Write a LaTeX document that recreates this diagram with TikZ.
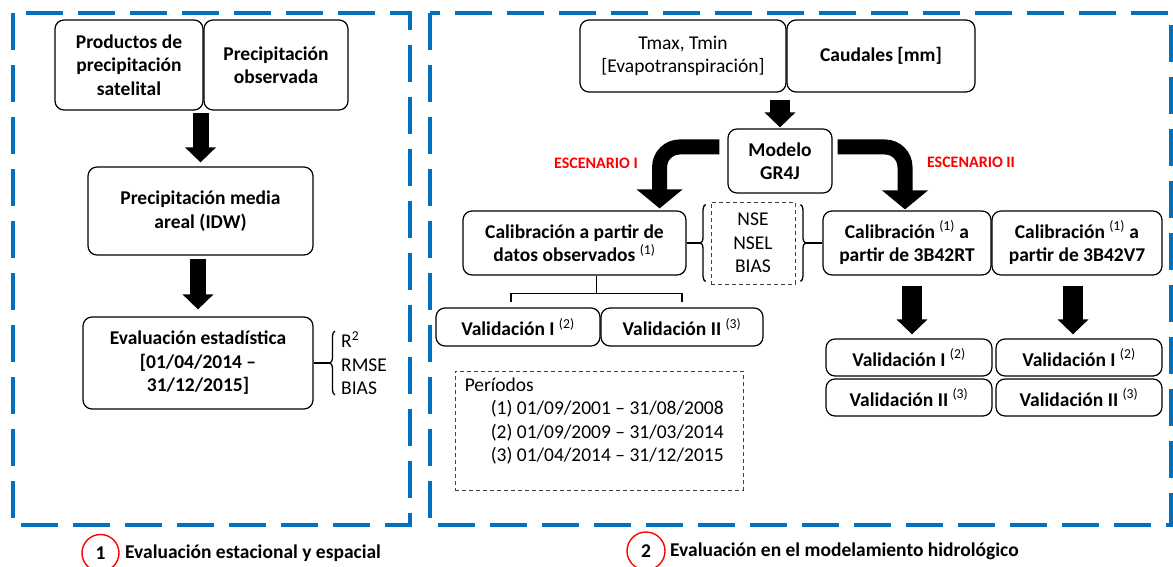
\documentclass[tikz,border=0pt]{standalone}
\usepackage{fontspec}
\setmainfont{Carlito}
\usetikzlibrary{arrows.meta,decorations.pathreplacing}

\definecolor{frameblue}{RGB}{0,112,192}
\newcommand{\boxfont}{\fontsize{19.5}{23.5}\selectfont}
\newcommand{\refnum}[1]{\textsuperscript{\mdseries(#1)}}

\begin{document}
\begin{tikzpicture}[
    x=1pt, y=-1pt,
    frame/.style={frameblue, line width=4pt, dash pattern=on 37pt off 15pt},
    box/.style={draw, rounded corners=9pt, line width=1.2pt, align=center,
        inner sep=0pt, font=\boxfont\bfseries},
    dashbox/.style={draw=black!75, line width=0.9pt, dash pattern=on 4pt off 3pt,
        inner sep=0pt, align=center, font=\boxfont},
    bigarrow/.style={line width=16pt, -{Triangle[width=30pt,length=15pt]}},
    bendarrow/.style={line width=15pt, rounded corners=20pt,
        -{Triangle[width=45pt,length=19pt]}},
    thinline/.style={line width=1.3pt},
    brace/.style={decorate, decoration={brace, amplitude=5pt}, line width=1.3pt},
    metric/.style={inner sep=0pt, align=left, font=\boxfont},
    scen/.style={red, font=\fontsize{16}{19}\selectfont\bfseries},
    numcircle/.style={circle, draw=red, line width=1.4pt, minimum size=37pt,
        inner sep=0pt, font=\boxfont\bfseries},
    caption/.style={inner sep=0pt, font=\boxfont\bfseries}
]
    \useasboundingbox (0,0) rectangle (1173,567);

    % frames
    \draw[frame] (13,13) rectangle (410,525);
    \draw[frame] (430,13) rectangle (1171,525);

    % 1: evaluacion estacional y espacial
    \node[box, minimum width=148pt, minimum height=90pt] (prodsat) at (129,65)
        {Productos de\\precipitación\\satelital};
    \node[box, minimum width=144pt, minimum height=90pt] (precobs) at (276,65)
        {Precipitación\\observada};
    \node[box, minimum width=225pt, minimum height=88pt] (pma) at (200.5,211)
        {Precipitación media\\areal (IDW)};
    \node[box, minimum width=230pt, minimum height=92pt] (evalest) at (198,363)
        {Evaluación estadística\\{}[01/04/2014 –\\31/12/2015]};
    \node[metric, anchor=west] (evalmet) at (341,363) {R\textsuperscript{2}\\RMSE\\BIAS};

    \draw[bigarrow, shorten <=2pt, shorten >=4pt] (pma.north |- prodsat.south) -- (pma.north);
    \draw[bigarrow, shorten <=3pt, shorten >=7pt] (evalest.north |- pma.south) -- (evalest.north);
    \draw[thinline] (evalest.east) -- ([xshift=-11pt]evalmet.west);
    \draw[brace] ([xshift=-6pt]evalmet.south west) -- ([xshift=-6pt]evalmet.north west);

    % 2: modelamiento hidrologico
    \node[box, minimum width=206pt, minimum height=72pt] (tmax) at (683,56)
        {\mdseries Tmax, Tmin\\\mdseries [Evapotranspiración]};
    \node[box, minimum width=188pt, minimum height=72pt] (caudales) at (881,56)
        {Caudales [mm]};
    \node[box, minimum width=104pt, minimum height=64pt] (modelo) at (780,161)
        {Modelo\\GR4J};
    \node[box, minimum width=223pt, minimum height=64pt] (calobs) at (574.5,243)
        {Calibración a partir de\\datos observados \refnum{1}};
    \node[dashbox, minimum width=84pt, minimum height=82pt] (metrics) at (753,243)
        {NSE\\NSEL\\BIAS};
    \node[box, minimum width=168pt, minimum height=64pt] (calrt) at (907,243)
        {Calibración \refnum{1} a\\partir de 3B42RT};
    \node[box, minimum width=170pt, minimum height=64pt] (calvs) at (1077,243)
        {Calibración \refnum{1} a\\partir de 3B42V7};

    \node[box, minimum width=164pt, minimum height=38pt] (valobsa) at (518,327)
        {Validación I \refnum{2}};
    \node[box, minimum width=162pt, minimum height=38pt] (valobsb) at (682,327)
        {Validación II \refnum{3}};
    \node[box, minimum width=166pt, minimum height=37pt] (valrta) at (909,357.5)
        {Validación I \refnum{2}};
    \node[box, minimum width=166pt, minimum height=37pt] (valrtb) at (909,397.5)
        {Validación II \refnum{3}};
    \node[box, minimum width=166pt, minimum height=37pt] (valvsa) at (1079,357.5)
        {Validación I \refnum{2}};
    \node[box, minimum width=166pt, minimum height=37pt] (valvsb) at (1079,397.5)
        {Validación II \refnum{3}};

    \node[dashbox, minimum width=288pt, minimum height=119pt] (periodos) at (599,430.5) {};
    \node[metric, anchor=north west] (periodostxt) at ([xshift=10pt,yshift=-7pt]periodos.north west)
        {Períodos\\
         \hspace*{26pt}(1) 01/09/2001 – 31/08/2008\\
         \hspace*{26pt}(2) 01/09/2009 – 31/03/2014\\
         \hspace*{26pt}(3) 01/04/2014 – 31/12/2015};

    \node[scen] (escuno) at (596,163) {ESCENARIO I};
    \node[scen] (escdos) at (971,162) {ESCENARIO II};

    \draw[bigarrow, line width=20pt, shorten <=7pt, shorten >=1pt] (modelo.north |- tmax.south) -- (modelo.north);
    \draw[bendarrow, shorten >=2pt] ([xshift=-8pt,yshift=14pt]modelo.west) -| ([xshift=-27pt]calobs.north east);
    \draw[bendarrow, shorten >=1pt] ([xshift=5pt,yshift=14pt]modelo.east) -| ([xshift=-2pt]calrt.north);

    \draw[thinline] (calobs.east) -- ([xshift=-10pt]metrics.west);
    \draw[brace] ([xshift=-5pt,yshift=3pt]metrics.south west) -- ([xshift=-5pt,yshift=-3pt]metrics.north west);
    \draw[brace] ([xshift=5pt,yshift=-3pt]metrics.north east) -- ([xshift=5pt,yshift=3pt]metrics.south east);
    \draw[thinline] ([xshift=10pt]metrics.east) -- (calrt.west);

    \coordinate (split) at ([xshift=22pt,yshift=-18pt]calobs.south);
    \draw[thinline] ([xshift=22pt]calobs.south) -- (split);
    \draw[thinline] ([xshift=-7pt,yshift=5pt]valobsa.north) |- (split) -| ([yshift=5pt]valobsb.north);

    \draw[bigarrow, line width=20pt, shorten <=10pt, shorten >=4pt] ([xshift=5pt]calrt.south) -- ([xshift=5pt]calrt.south |- valrta.north);
    \draw[bigarrow, line width=20pt, shorten <=10pt, shorten >=4pt] ([xshift=-4pt]calvs.south) -- ([xshift=-4pt]calvs.south |- valvsa.north);

    % captions
    \node[numcircle] (numuno) at (100.5,553) {1};
    \node[caption, anchor=west] (capuno) at (125,553) {Evaluación estacional y espacial};
    \node[numcircle, minimum size=38pt] (numdos) at (646,551) {2};
    \node[caption, anchor=west] (capdos) at (670,551) {Evaluación en el modelamiento hidrológico};
\end{tikzpicture}
\end{document}
